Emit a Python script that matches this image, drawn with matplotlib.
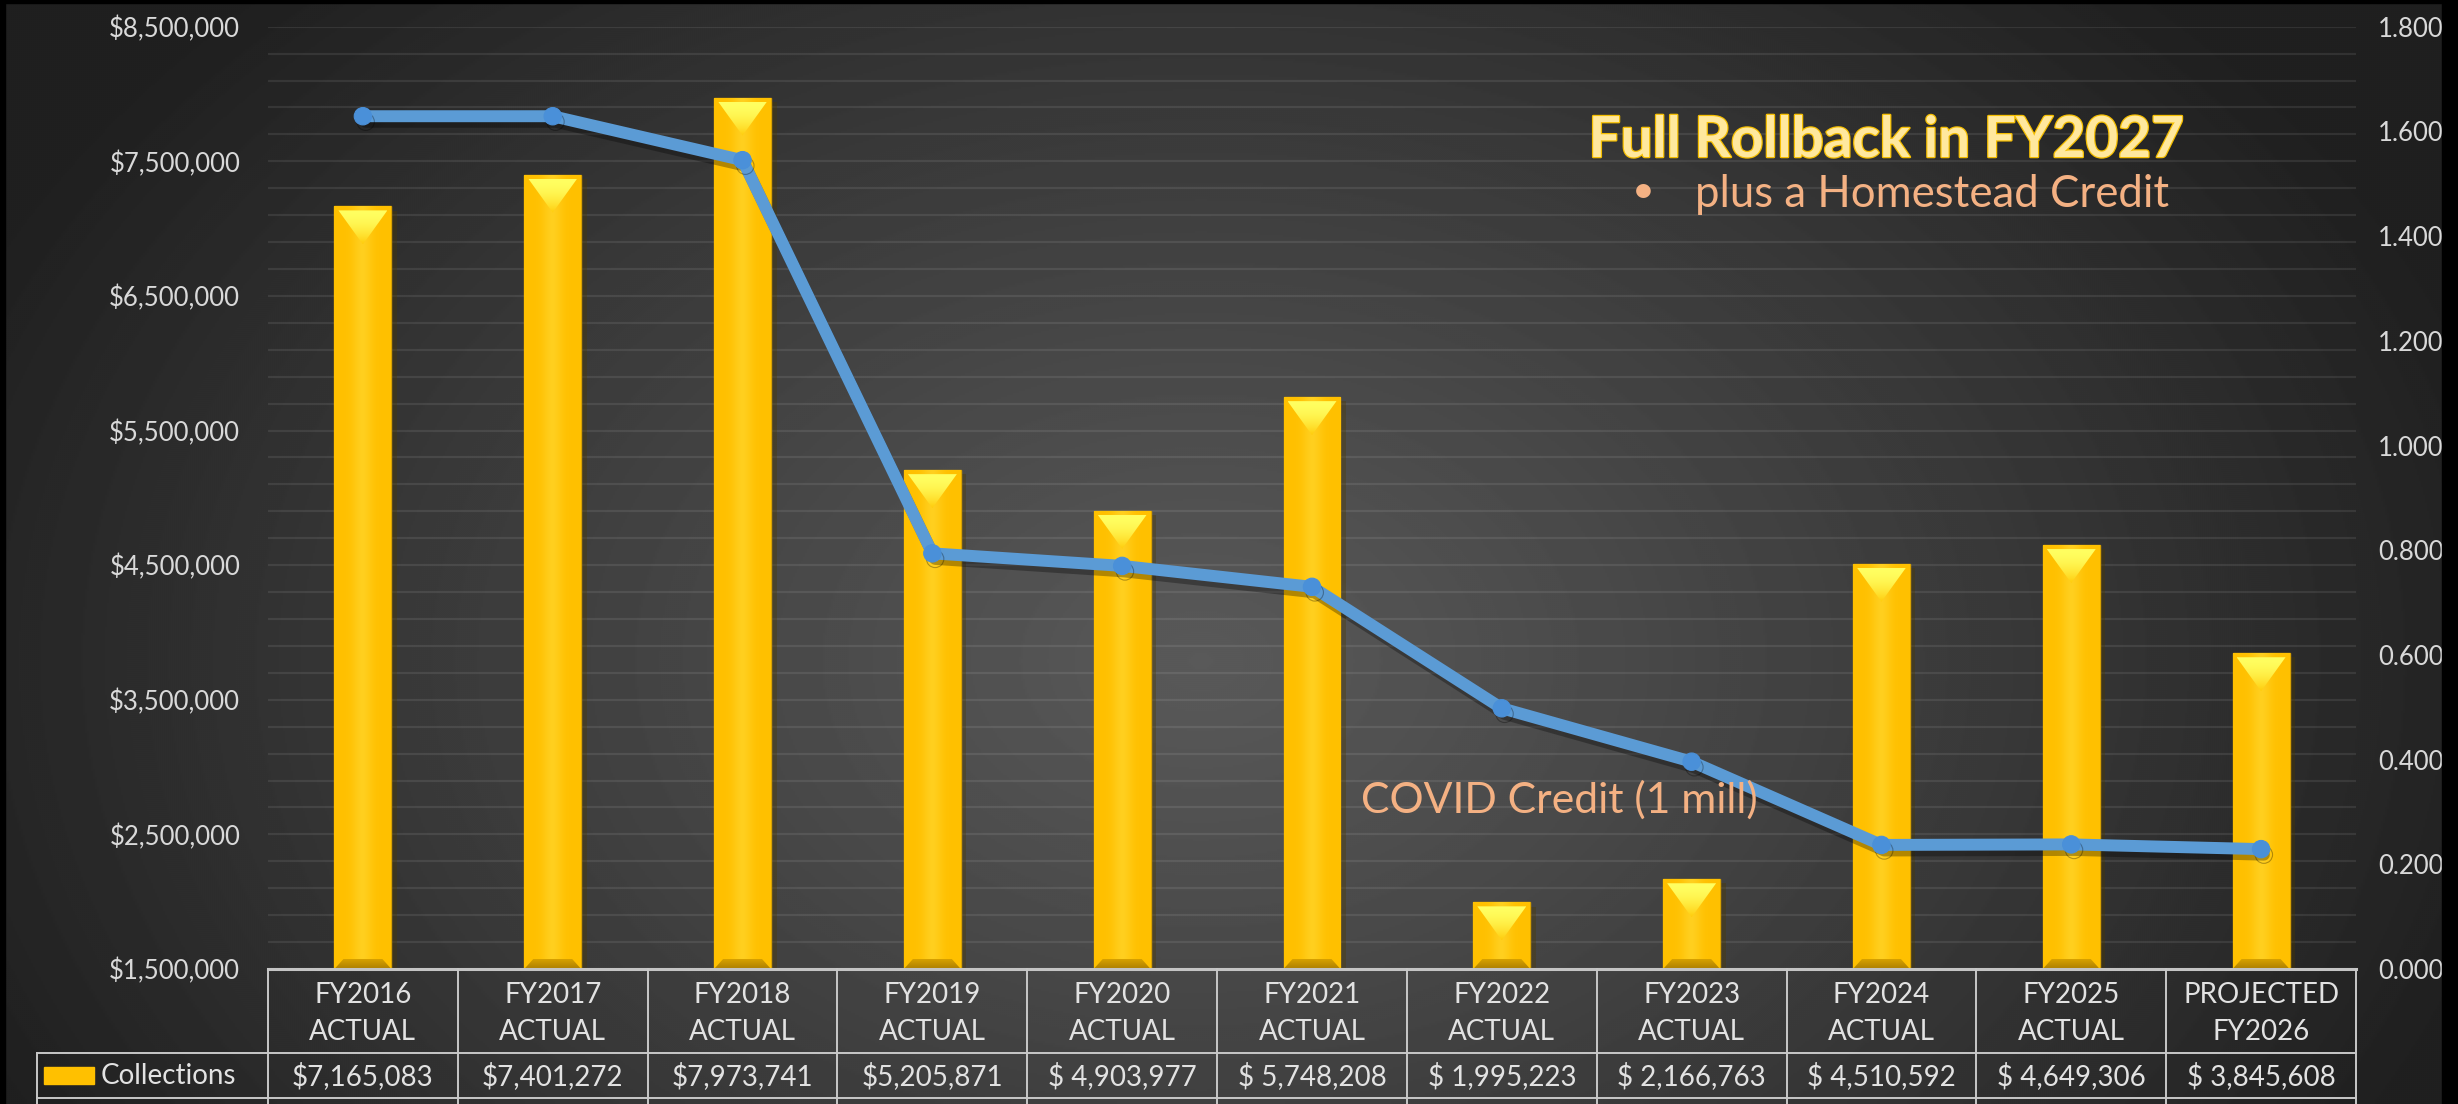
import numpy as np
import matplotlib
matplotlib.use("Agg")
import matplotlib.pyplot as plt
from matplotlib import transforms
from matplotlib import patheffects as pe
from matplotlib.patches import Rectangle, Polygon
from matplotlib.lines import Line2D
from matplotlib.ticker import FixedLocator, FuncFormatter

# ---------------- data ----------------
cat_line1 = ["FY2016", "FY2017", "FY2018", "FY2019", "FY2020", "FY2021",
             "FY2022", "FY2023", "FY2024", "FY2025", "PROJECTED"]
cat_line2 = ["ACTUAL", "ACTUAL", "ACTUAL", "ACTUAL", "ACTUAL", "ACTUAL",
             "ACTUAL", "ACTUAL", "ACTUAL", "ACTUAL", "FY2026"]
collections = [7165083, 7401272, 7973741, 5205871, 4903977, 5748208,
               1995223, 2166763, 4510592, 4649306, 3845608]
collection_labels = ["$7,165,083", "$7,401,272", "$7,973,741", "$5,205,871",
                     "$ 4,903,977", "$ 5,748,208", "$ 1,995,223", "$ 2,166,763",
                     "$ 4,510,592", "$ 4,649,306", "$ 3,845,608"]
millage = [1.629, 1.629, 1.545, 0.794, 0.770, 0.730,
           0.498, 0.396, 0.237, 0.238, 0.229]
left_ticks = [1500000, 2500000, 3500000, 4500000, 5500000, 6500000, 7500000, 8500000]
right_ticks = [0.0, 0.2, 0.4, 0.6, 0.8, 1.0, 1.2, 1.4, 1.6, 1.8]
series_name = "Collections"
title_text = "Full Rollback in FY2027"
bullet_text = "plus a Homestead Credit"
covid_text = "COVID Credit (1 mill)"

# ---------------- figure ----------------
W, H, DPI = 2458, 1104, 100
plt.rcParams["font.family"] = ["Lato", "DejaVu Sans"]
fig = plt.figure(figsize=(W / DPI, H / DPI), dpi=DPI)


def fx(x):
    return x / W


def fy(y):
    return 1 - y / H


# background radial gradient
bg = fig.add_axes([0, 0, 1, 1], zorder=-10)
bg.axis("off")
yy, xx = np.mgrid[0:H:2, 0:W:2]
r = np.sqrt(((xx - 1200) / 1350.0) ** 2 + ((yy - 660) / 950.0) ** 2)
t = np.clip(r, 0, 1) ** 1.1
c_center, c_edge = 0x59 / 255, 0x1f / 255
img = c_center + (c_edge - c_center) * t
bg.imshow(img, cmap="gray", vmin=0, vmax=1, aspect="auto",
          extent=(0, 1, 0, 1), origin="upper", interpolation="bilinear")
bg.set_xlim(0, 1)
bg.set_ylim(0, 1)

# main axes
PL, PR, PT, PB = 268, 2356, 26.7, 969
ax = fig.add_axes([fx(PL), fy(PB), (PR - PL) / W, (PB - PT) / H])
ax.patch.set_alpha(0)
n = len(collections)
x = np.arange(n)
YMIN, YMAX = left_ticks[0], left_ticks[-1]
for s in ax.spines.values():
    s.set_visible(False)
ax.set_xticks([])
ax.yaxis.set_major_locator(FixedLocator(left_ticks))
ax.yaxis.set_major_formatter(FuncFormatter(lambda v, p: f"${v:,.0f}"))
ax.yaxis.set_minor_locator(FixedLocator(np.arange(YMIN, YMAX + 1, 200000)))
ax.tick_params(axis="y", which="both", length=0, pad=20, labelsize=18.5,
               labelcolor="#D9D9D9")
ax.grid(axis="y", which="both", color="white", alpha=0.085, lw=1.6)
ax.set_axisbelow(True)

# pixel -> data conversions
dy = (YMAX - YMIN) / (PB - PT)
dx = n / (PR - PL)
w = 0.30
hw = w / 2

bars = ax.bar(x, collections, width=w, color="#FFC000", edgecolor="#D9A200",
              linewidth=1.0, zorder=2,
              path_effects=[pe.SimplePatchShadow(offset=(4, -3), alpha=0.35),
                            pe.Normal()])

# body horizontal gradient
gx = np.linspace(-1, 1, 64)
k = np.exp(-(gx / 0.35) ** 2)
body = np.zeros((1, 64, 3))
body[0, :, 0] = 1.0
body[0, :, 1] = 0.753 + 0.06 * k
body[0, :, 2] = 0.0 + 0.12 * k
# triangle vertical gradient (top bright yellow -> base gold)
gt = np.linspace(0, 1, 64) ** 1.8
tri = np.zeros((64, 1, 3))
tri[:, 0, 0] = 1.0
tri[:, 0, 1] = 1.0 + (0.80 - 1.0) * gt
tri[:, 0, 2] = 0.38 + (0.05 - 0.38) * gt
# bottom bevel gradient
gb = np.linspace(0, 1, 16)
bot = np.zeros((16, 1, 3))
bot[:, 0, 0] = 0.84 + (0.68 - 0.84) * gb
bot[:, 0, 1] = 0.63 + (0.50 - 0.63) * gb
bot[:, 0, 2] = 0.0

for i, (v, b) in enumerate(zip(collections, bars)):
    im = ax.imshow(body, extent=(i - hw, i + hw, YMIN, v), aspect="auto",
                   zorder=2.1, interpolation="bilinear")
    im.set_clip_path(b)
    top = v - 4 * dy
    tip = v - 38 * dy
    thw = hw - 4 * dx
    tpoly = Polygon([(i - thw, top), (i + thw, top), (i, tip)], closed=True,
                    transform=ax.transData)
    im = ax.imshow(tri, extent=(i - thw, i + thw, tip, top), aspect="auto",
                   zorder=2.2, interpolation="bilinear")
    im.set_clip_path(tpoly)
    b0, b1 = YMIN, YMIN + 10 * dy
    bhw = hw - 9 * dx
    bpoly = Polygon([(i - hw, b0), (i + hw, b0), (i + bhw, b1), (i - bhw, b1)],
                    closed=True, transform=ax.transData)
    im = ax.imshow(bot, extent=(i - hw, i + hw, b0, b1), aspect="auto",
                   zorder=2.2, interpolation="bilinear")
    im.set_clip_path(bpoly)

ax.set_xlim(-0.5, n - 0.5)
ax.set_ylim(YMIN, YMAX)

# secondary axis with millage line
ax2 = ax.twinx()
for s in ax2.spines.values():
    s.set_visible(False)
ax2.set_ylim(right_ticks[0], right_ticks[-1])
ax2.yaxis.set_major_locator(FixedLocator(right_ticks))
ax2.yaxis.set_major_formatter(FuncFormatter(lambda v, p: f"{v:.3f}"))
ax2.tick_params(axis="y", length=0, pad=16, labelsize=18.5, labelcolor="#D9D9D9")
ax2.plot(x, millage, color="#5B9BD5", lw=8.6, marker="o", ms=12.5,
         mfc="#4A90D9", mec="#4A90D9", mew=0.8,
         solid_capstyle="round", solid_joinstyle="round", zorder=3,
         path_effects=[pe.SimpleLineShadow(offset=(2, -4), shadow_color="black",
                                           alpha=0.3), pe.Normal()])
ax2.set_xlim(-0.5, n - 0.5)

# ---------------- data table ----------------
trans = transforms.blended_transform_factory(ax.transData, fig.transFigure)
lc = "#C8C8C8"
fig.add_artist(Line2D([-0.5, n - 0.5], [fy(PB), fy(PB)], transform=trans,
                      color="#C4C4C4", lw=2.2))
for yl in (1052.7, 1098):
    fig.add_artist(Line2D([fx(37), fx(PR)], [fy(yl), fy(yl)],
                          transform=fig.transFigure, color=lc, lw=1.4))
for bnd in np.arange(n + 1) - 0.5:
    fig.add_artist(Line2D([bnd, bnd], [fy(PB), 0], transform=trans,
                          color=lc, lw=1.4))
fig.add_artist(Line2D([fx(37), fx(37)], [fy(1052.7), 0],
                      transform=fig.transFigure, color=lc, lw=1.4))

tc = "#E2E2E2"
for i in range(n):
    fig.text(i, fy(995), cat_line1[i], transform=trans, ha="center",
             va="center", fontsize=20, color=tc)
    fig.text(i, fy(1031.7), cat_line2[i], transform=trans, ha="center",
             va="center", fontsize=20, color=tc)
    fig.text(i, fy(1076.5), collection_labels[i], transform=trans,
             ha="center", va="center", fontsize=20, color=tc)
fig.add_artist(Rectangle((fx(44), fy(1084.3)), 50 / W, 17.6 / H,
                         transform=fig.transFigure, color="#FFC000"))
fig.text(fx(101), fy(1076.5), series_name, ha="left", va="center",
         fontsize=20, color=tc)

# ---------------- annotations ----------------
renderer = fig.canvas.get_renderer()


def fit(txt, target):
    bb = txt.get_window_extent(renderer=renderer)
    txt.set_fontsize(txt.get_fontsize() * target / bb.width)


t1 = fig.text(fx(1886), fy(157), title_text, ha="center", va="baseline",
              fontsize=40, fontweight="bold", color="#FFE89E", zorder=5,
              path_effects=[pe.withStroke(linewidth=1.8, foreground="#F5BE00")])
fit(t1, 595)
t2 = fig.text(fx(1695.5), fy(206.7), bullet_text, ha="left", va="baseline",
              fontsize=28, color="#F4B183", zorder=5)
fit(t2, 473.5)
fig.text(fx(1643.6), fy(191), "\u2022", ha="center", va="center",
         fontsize=t2.get_fontsize() * 0.9, color="#F4B183", zorder=5)
t3 = fig.text(fx(1361), fy(812.3), covid_text, ha="left", va="baseline",
              fontsize=28, color="#F4B183", zorder=5)
fit(t3, 398)

# ---------------- black frame edges ----------------
for (x0, y0, ww, hh) in [(0, 0, W, 3), (0, 0, 5, H), (2442, 0, W - 2442, H)]:
    fig.add_artist(Rectangle((fx(x0), fy(y0 + hh)), ww / W, hh / H,
                             transform=fig.transFigure, color="black", zorder=10))

fig.savefig("out.png", dpi=DPI)
